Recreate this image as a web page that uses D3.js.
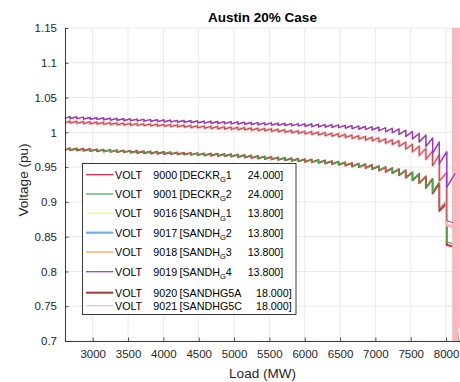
<!DOCTYPE html>
<html>
<head>
<meta charset="utf-8">
<script src="https://cdn.jsdelivr.net/npm/d3@7"></script>
<style>
  body { margin: 0; background: #fff; }
  svg { display: block; font-family: "Liberation Sans", Arial, Helvetica, sans-serif; }
</style>
</head>
<body>
<svg id="chart" width="460" height="382"></svg>
<script>
// load at each tap/shunt step boundary (MW)
const stepLoads = [2610, 2680, 2775, 2870, 2965, 3060, 3155, 3250, 3345, 3440, 3535, 3630, 3725, 3820, 3915,
  4010, 4105, 4200, 4295, 4390, 4485, 4580, 4675, 4770, 4865, 4960, 5055, 5150, 5245, 5340, 5435, 5530,
  5625, 5720, 5815, 5910, 6005, 6100, 6195, 6290, 6385, 6480, 6575, 6670, 6765, 6860, 6955, 7050, 7145,
  7240, 7335, 7430, 7525, 7620, 7715, 7810, 7905, 8010]

// SANDH_G1..4 (identical curves) - voltage at start and end of each step
const sandhLo = [1.0202, 1.0198, 1.0195, 1.0191, 1.0187, 1.0184, 1.0180, 1.0176, 1.0173, 1.0169,
  1.0166, 1.0163, 1.0160, 1.0157, 1.0154, 1.0151, 1.0148, 1.0146, 1.0143, 1.0140,
  1.0137, 1.0131, 1.0128, 1.0125, 1.0123, 1.0120, 1.0117, 1.0114, 1.0111, 1.0108,
  1.0106, 1.0103, 1.0100, 1.0097, 1.0094, 1.0091, 1.0086, 1.0082, 1.0078, 1.0075,
  1.0071, 1.0066, 1.0061, 1.0052, 1.0046, 1.0041, 1.0035, 1.0022, 1.0008, 0.9994,
  0.9969, 0.9941, 0.9905, 0.9861, 0.9798, 0.970, 0.955]
const sandhHi = [1.0227, 1.0223, 1.0220, 1.0216, 1.0212, 1.0209, 1.0205, 1.0201, 1.0198, 1.0194,
  1.0191, 1.0188, 1.0185, 1.0182, 1.0179, 1.0176, 1.0173, 1.0171, 1.0168, 1.0165,
  1.0162, 1.0161, 1.0158, 1.0155, 1.0153, 1.0150, 1.0147, 1.0144, 1.0141, 1.0138,
  1.0136, 1.0133, 1.0130, 1.0127, 1.0124, 1.0121, 1.0121, 1.0117, 1.0113, 1.0110,
  1.0106, 1.0101, 1.0096, 1.0092, 1.0086, 1.0081, 1.0075, 1.0067, 1.0058, 1.0049,
  1.0029, 1.0011, 0.9985, 0.9961, 0.9918, 0.986, 0.972]
const sandhTail = [[8010, 0.921], [8130, 0.941]]

// SANDHG5A / SANDHG5C
const gen5Lo = [1.0137, 1.0133, 1.0130, 1.0126, 1.0122, 1.0118, 1.0115, 1.0111, 1.0107, 1.0104,
  1.0101, 1.0098, 1.0095, 1.0092, 1.0089, 1.0086, 1.0082, 1.0078, 1.0073, 1.0069,
  1.0065, 1.0058, 1.0054, 1.0050, 1.0046, 1.0042, 1.0038, 1.0034, 1.0029, 1.0025,
  1.0021, 1.0014, 1.0007, 0.9999, 0.9992, 0.9985, 0.9976, 0.9968, 0.9961, 0.9952,
  0.9944, 0.9935, 0.9925, 0.9911, 0.9901, 0.9890, 0.9880, 0.9861, 0.9842, 0.9824,
  0.9798, 0.9759, 0.9720, 0.9667, 0.9610, 0.952, 0.930]
const gen5Hi = [1.0162, 1.0158, 1.0155, 1.0151, 1.0147, 1.0143, 1.0140, 1.0136, 1.0132, 1.0129,
  1.0126, 1.0123, 1.0120, 1.0117, 1.0114, 1.0111, 1.0107, 1.0103, 1.0098, 1.0094,
  1.0090, 1.0088, 1.0084, 1.0080, 1.0076, 1.0072, 1.0068, 1.0064, 1.0059, 1.0055,
  1.0051, 1.0044, 1.0037, 1.0029, 1.0022, 1.0015, 1.0011, 1.0003, 0.9996, 0.9987,
  0.9979, 0.9970, 0.9960, 0.9951, 0.9941, 0.9930, 0.9920, 0.9906, 0.9892, 0.9879,
  0.9858, 0.9829, 0.9800, 0.9767, 0.9730, 0.968, 0.942]
const gen5ATail = [[8010, 0.873], [8103, 0.870]]
const gen5CTail = [[8010, 0.867], [8103, 0.864]]
// non-converged cases after ~8100 MW
const collapseLoads = [8104, 8108, 8112, 8116, 8120, 8124, 8128, 8132, 8136, 8140, 8144, 8148, 8152,
  8156, 8160, 8164, 8168, 8172, 8176, 8180, 8184, 8188, 8192, 8196, 8200, 8204]
const collapseVolts = [1.2, 0.6, 1.2, 0.6, 1.2, 0.6, 1.2, 0.6, 1.2, 0.6, 1.2, 0.6, 1.2,
  0.6, 1.2, 0.72, 1.2, 0.72, 1.2, 0.72, 1.2, 0.72, 1.2, 0.72, 1.2, 0.72]

// DECKR_G1 / DECKR_G2 (shared up to 7810 MW)
const deckrLo = [0.9747, 0.9743, 0.9739, 0.9735, 0.9731, 0.9727, 0.9723, 0.9719, 0.9715, 0.9711,
  0.9707, 0.9703, 0.9699, 0.9696, 0.9692, 0.9689, 0.9686, 0.9682, 0.9679, 0.9676,
  0.9672, 0.9666, 0.9663, 0.9659, 0.9656, 0.9650, 0.9644, 0.9637, 0.9630, 0.9624,
  0.9617, 0.9610, 0.9604, 0.9597, 0.9590, 0.9583, 0.9575, 0.9568, 0.9561, 0.9552,
  0.9543, 0.9534, 0.9523, 0.9507, 0.9497, 0.9486, 0.9470, 0.9450, 0.9431, 0.9411,
  0.9384, 0.9347, 0.9311, 0.9267, 0.9200]
const deckrHi = [0.9772, 0.9768, 0.9764, 0.9760, 0.9756, 0.9752, 0.9748, 0.9744, 0.9740, 0.9736,
  0.9732, 0.9728, 0.9724, 0.9721, 0.9717, 0.9714, 0.9711, 0.9707, 0.9704, 0.9701,
  0.9697, 0.9696, 0.9693, 0.9689, 0.9686, 0.9680, 0.9674, 0.9667, 0.9660, 0.9654,
  0.9647, 0.9640, 0.9634, 0.9627, 0.9620, 0.9613, 0.9610, 0.9603, 0.9596, 0.9587,
  0.9578, 0.9569, 0.9558, 0.9552, 0.9542, 0.9531, 0.9515, 0.9500, 0.9486, 0.9471,
  0.9454, 0.9427, 0.9401, 0.9367, 0.9330]
const deckr1EndLo = [0.912, 0.887], deckr1EndHi = [0.927, 0.898]
const deckr2EndLo = [0.914, 0.890], deckr2EndHi = [0.929, 0.902]
const deckr1Tail = [[8010, 0.838], [8100, 0.836]]
const deckr2Tail = [[8010, 0.842], [8100, 0.840], [8165, 0.712], [8200, 0.690]]

const xTicks = [3000, 3500, 4000, 4500, 5000, 5500, 6000, 6500, 7000, 7500, 8000]
const yTicks = [0.7, 0.75, 0.8, 0.85, 0.9, 0.95, 1, 1.05, 1.1, 1.15]

// legend order
const series = [
  { bus: '9000', name: 'DECKR', sub: 'G', unit: '1', kv: '24.000]', color: '#e41a3c', lo: deckrLo.concat(deckr1EndLo), hi: deckrHi.concat(deckr1EndHi), tail: deckr1Tail },
  { bus: '9001', name: 'DECKR', sub: 'G', unit: '2', kv: '24.000]', color: '#3fae49', lo: deckrLo.concat(deckr2EndLo), hi: deckrHi.concat(deckr2EndHi), tail: deckr2Tail },
  { bus: '9016', name: 'SANDH', sub: 'G', unit: '1', kv: '13.800]', color: '#ffff33', lo: sandhLo, hi: sandhHi, tail: sandhTail },
  { bus: '9017', name: 'SANDH', sub: 'G', unit: '2', kv: '13.800]', color: '#6db3e2', lo: sandhLo, hi: sandhHi, tail: sandhTail, legW: 2.2 },
  { bus: '9018', name: 'SANDH', sub: 'G', unit: '3', kv: '13.800]', color: '#ff9a3c', lo: sandhLo, hi: sandhHi, tail: sandhTail },
  { bus: '9019', name: 'SANDH', sub: 'G', unit: '4', kv: '13.800]', color: '#9b2ed8', lo: sandhLo, hi: sandhHi, tail: sandhTail },
  { bus: '9020', name: 'SANDHG5A', sub: '', unit: '', kv: '18.000]', color: '#a23b3b', lo: gen5Lo, hi: gen5Hi, tail: gen5ATail, legW: 2 },
  { bus: '9021', name: 'SANDHG5C', sub: '', unit: '', kv: '18.000]', color: '#f9b7be', lo: gen5Lo, hi: gen5Hi,
    tail: gen5CTail.concat(collapseLoads.map((l, i) => [l, collapseVolts[i]])) }
]

// sawtooth: each step climbs from lo to hi, then drops at the next boundary
series.forEach(s => {
  const pts = []
  s.lo.forEach((v, k) => {
    pts.push([stepLoads[k], v])
    pts.push([stepLoads[k + 1], s.hi[k]])
  })
  s.points = pts.concat(s.tail)
})

const svg = d3.select('#chart')
const plotLeft = 65, plotTop = 28, plotBottom = 341
const x = d3.scaleLinear().domain([2608, 8250]).range([plotLeft, plotLeft + (8250 - 2608) * 35.333 / 500])
const y = d3.scaleLinear().domain([0.7, 1.15]).range([plotBottom, plotTop])
const plotRight = x.range()[1]
const ink = '#262626'

svg.append('defs').append('clipPath').attr('id', 'plotClip')
  .append('rect').attr('x', plotLeft).attr('y', plotTop)
  .attr('width', plotRight - plotLeft).attr('height', plotBottom - plotTop)

// grid
svg.append('g').selectAll('line').data(xTicks).join('line')
  .attr('x1', d => x(d)).attr('x2', d => x(d)).attr('y1', plotTop).attr('y2', plotBottom)
  .attr('stroke', '#e3e3e3').attr('stroke-width', 0.8)
svg.append('g').selectAll('line').data(yTicks).join('line')
  .attr('x1', plotLeft).attr('x2', plotRight).attr('y1', d => y(d)).attr('y2', d => y(d))
  .attr('stroke', '#e3e3e3').attr('stroke-width', 0.8)

// curves
const line = d3.line().x(d => x(d[0])).y(d => y(d[1]))
const drawOrder = ['9000', '9001', '9016', '9017', '9018', '9021', '9020', '9019']
const widths = { '9000': 1.9, '9001': 1.1, '9021': 2.8, '9020': 0.9, '9019': 1.2 }
const plot = svg.append('g').attr('clip-path', 'url(#plotClip)')
drawOrder.forEach(bus => {
  const s = series.find(d => d.bus === bus)
  plot.append('path').datum(s.points)
    .attr('d', line)
    .attr('fill', 'none')
    .attr('stroke', s.color)
    .attr('stroke-width', widths[bus] || 1.2)
    .attr('stroke-linejoin', 'round')
})

// axes
const xAxis = svg.append('g').attr('transform', `translate(0,${plotBottom})`)
  .call(d3.axisBottom(x).tickValues(xTicks).tickSizeInner(-3.5).tickSizeOuter(0).tickPadding(9)
    .tickFormat(d => String(d)))
const yAxis = svg.append('g').attr('transform', `translate(${plotLeft},0)`)
  .call(d3.axisLeft(y).tickValues(yTicks).tickSizeInner(-3.5).tickSizeOuter(0).tickPadding(8)
    .tickFormat(d => String(d)))
;[xAxis, yAxis].forEach(g => {
  g.attr('font-family', null)
  g.select('.domain').attr('stroke', ink).attr('stroke-width', 0.9)
  g.selectAll('.tick line').attr('stroke', ink).attr('stroke-width', 0.8)
  g.selectAll('.tick text').attr('fill', ink).attr('font-size', 11.5)
})

// titles
svg.append('text').attr('x', 262.5).attr('y', 21.5).attr('text-anchor', 'middle')
  .attr('font-size', 13.5).attr('font-weight', 'bold').attr('fill', '#000').text('Austin 20% Case')
svg.append('text').attr('x', 262.5).attr('y', 378).attr('text-anchor', 'middle')
  .attr('font-size', 13.5).attr('fill', ink).text('Load (MW)')
svg.append('text').attr('transform', 'translate(28,180) rotate(-90)').attr('text-anchor', 'middle')
  .attr('font-size', 13.5).attr('fill', ink).text('Voltage (pu)')

// legend
const rowY = [174.7, 194, 213.3, 232.7, 252, 271.7, 292.7, 305.7]
const legend = svg.append('g')
legend.append('rect').attr('x', 82.5).attr('y', 163.5).attr('width', 213.5).attr('height', 151)
  .attr('fill', '#fff').attr('stroke', ink).attr('stroke-width', 0.9)
const rows = legend.selectAll('g.row').data(series).join('g').attr('class', 'row')
  .attr('transform', (d, i) => `translate(0,${rowY[i]})`)
rows.append('line').attr('x1', 86).attr('x2', 113.3).attr('y1', 0).attr('y2', 0)
  .attr('stroke', d => d.color).attr('stroke-width', d => d.legW || 1.2)
const txt = rows.append('g').attr('font-size', 10.7).attr('fill', '#000')
txt.append('text').attr('x', 115).attr('y', 3.8).text('VOLT')
txt.append('text').attr('x', 153.3).attr('y', 3.8).text(d => d.bus)
txt.append('text').attr('x', 179.5).attr('y', 3.8).each(function (d) {
  const t = d3.select(this)
  t.append('tspan').text('[' + d.name)
  if (d.sub) {
    t.append('tspan').attr('font-size', 7.6).attr('dy', 3.6).text(d.sub)
    t.append('tspan').attr('dy', -3.6).text(d.unit)
  }
})
txt.append('text').attr('x', d => d.sub ? 283.3 : 291.7).attr('y', 3.8).attr('text-anchor', 'end').text(d => d.kv)
</script>
</body>
</html>
